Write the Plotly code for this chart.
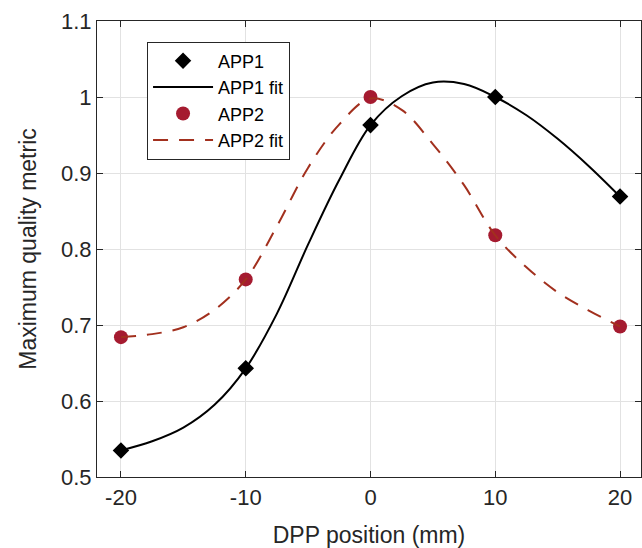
import plotly.graph_objects as go

# measured points
x_pts = [-20, -10, 0, 10, 20]
app1 = [0.535, 0.643, 0.963, 1.000, 0.869]
app2 = [0.684, 0.760, 1.000, 0.818, 0.698]

# fit curves
x_fit = [-20, -17.5, -15, -12.5, -10, -7.5, -5, -2.5, 0, 2.5, 5, 7.5, 10, 12.5, 15, 17.5, 20]
app1_fit = [0.535, 0.547, 0.565, 0.595, 0.643, 0.715, 0.806, 0.891, 0.963, 1.001, 1.019, 1.017,
            1.000, 0.976, 0.945, 0.909, 0.869]
app2_fit = [0.684, 0.688, 0.697, 0.720, 0.760, 0.830, 0.907, 0.964, 0.998, 0.983, 0.938, 0.884,
            0.818, 0.776, 0.743, 0.719, 0.698]

x_ticks = [-20, -10, 0, 10, 20]
x_tick_text = ["-20", "-10", "0", "10", "20"]
y_ticks = [0.5, 0.6, 0.7, 0.8, 0.9, 1.0, 1.1]
y_tick_text = ["0.5", "0.6", "0.7", "0.8", "0.9", "1", "1.1"]

red = "rgb(165,27,48)"
dash_red = "rgb(162,48,30)"
axis_col = "#262626"
font = "Liberation Sans, Arial, sans-serif"

fig = go.Figure()
fig.add_trace(go.Scatter(x=x_pts, y=app1, mode="markers", name="APP1",
                         marker=dict(symbol="diamond", size=10, color="black",
                                     line=dict(color="black", width=2.5))))
fig.add_trace(go.Scatter(x=x_fit, y=app1_fit, mode="lines", name="APP1 fit",
                         line=dict(color="black", width=2, shape="spline")))
fig.add_trace(go.Scatter(x=x_pts, y=app2, mode="markers", name="APP2",
                         marker=dict(symbol="circle", size=14, color=red)))
fig.add_trace(go.Scatter(x=x_fit, y=app2_fit, mode="lines", name="APP2 fit",
                         line=dict(color=dash_red, width=2, shape="spline", dash="15px,11px")))

fig.update_layout(
    width=642, height=548,
    margin=dict(l=97, r=1, t=21, b=71),
    paper_bgcolor="white", plot_bgcolor="white",
    font=dict(family=font, size=22, color=axis_col),
    legend=dict(x=0.092, y=0.955, xanchor="left", yanchor="top",
                bgcolor="white", bordercolor=axis_col, borderwidth=1,
                font=dict(size=18, color="black"), itemwidth=60,
                tracegroupgap=0),
    xaxis=dict(range=[-21.92, 21.68], tickvals=x_ticks, ticktext=x_tick_text,
               ticks="inside", ticklen=6, automargin=False,
               tickcolor=axis_col, showline=True, linecolor=axis_col, linewidth=1.2,
               mirror="ticks", showgrid=True, gridcolor="#e2e2e2", gridwidth=1,
               zeroline=False, tickfont=dict(size=22),
               title=dict(text="DPP position (mm)", font=dict(size=23), standoff=20)),
    yaxis=dict(range=[0.5, 1.1], tickvals=y_ticks, ticktext=y_tick_text, ticks="inside",
               ticklen=6, automargin=False, tickcolor=axis_col, showline=True,
               linecolor=axis_col, tickfont=dict(size=22),
               linewidth=1.2, mirror="ticks", showgrid=True, gridcolor="#e2e2e2",
               gridwidth=1, zeroline=False,
               title=dict(text="Maximum quality metric", font=dict(size=23), standoff=17)),
)

# remove the default page margin so the figure sits at the window origin
fig.write_html("out.html", config={"displayModeBar": False},
               post_script="document.body.style.margin='0';")
